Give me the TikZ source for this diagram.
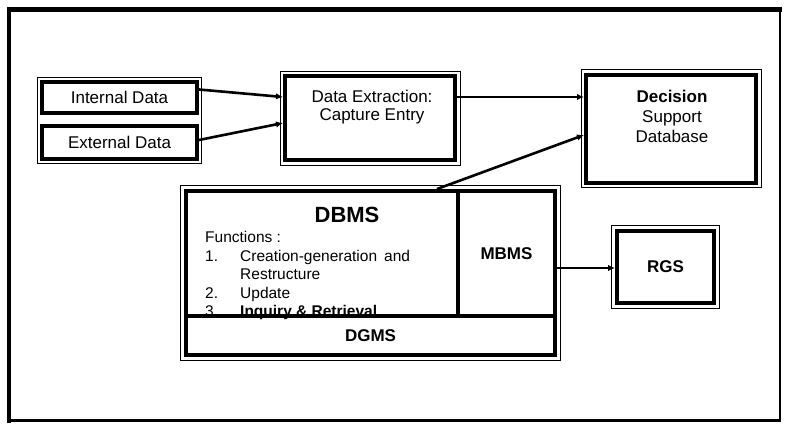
\documentclass[tikz,border=0pt]{standalone}
\usepackage{fontspec}
\setmainfont{Liberation Sans}
\usetikzlibrary{arrows.meta,fit}

\tikzset{
  box/.style={draw, line width=4pt, inner sep=0pt, align=center},
  frame/.style={draw, line width=0.9pt, inner sep=3pt},
  flow/.style={line width=2.6pt, -{Latex[length=7pt,width=6.5pt]}},
}

\begin{document}
\fontsize{17}{18}\selectfont
\begin{tikzpicture}[x=1pt, y=-1pt]
    \useasboundingbox (0,0) rectangle (786,423);

    % Outer border
    \draw[line width=4.5pt, line cap=rect] (9,420.5) -- (9,9.5) -- (780,9.5);
    \draw[line width=2.5pt, line cap=rect] (780,9.5) -- (780,420.5) -- (9,420.5);

    % Data sources
    \node[box, minimum width=155, minimum height=31] (int) at (119.5,97.5) {Internal Data};
    \node[box, minimum width=155, minimum height=33] (ext) at (119.5,142.5) {External Data};
    \node[frame, inner sep=2.5pt, fit=(int)(ext)] (src) {};

    % Data extraction
    \node[box, minimum width=170, minimum height=84] (extr) at (370,118) {};
    \node[frame, fit=(extr)] (extrf) {};
    \node[align=center] (extrtxt) at (372,107) {Data Extraction:\\Capture Entry};

    % Decision support database
    \node[box, minimum width=170, minimum height=108] (dsd) at (671,128.5) {};
    \node[frame, fit=(dsd)] (dsdf) {};
    \node[align=center, font=\fontsize{17}{20}\selectfont] (dsdtxt) at (672,116)
        {\textbf{Decision}\\Support\\Database};

    % DBMS block
    \node[box, minimum width=272, minimum height=125] (dbms) at (322,253.5) {};
    \node[font=\bfseries\fontsize{22}{24}\selectfont] (dbmst) at (347,215) {DBMS};
    \node[anchor=north west, inner sep=0pt, font=\fontsize{15.5}{18.5}\selectfont] (funcs) at (205,229.5) {%
      \begin{tabular}{@{}p{35pt}@{}l@{}}
        \multicolumn{2}{@{}l}{Functions :}\\
        1. & Creation-generation\hspace{7pt}and\\
           & Restructure\\
        2. & Update\\
        3  & \textbf{Inquiry \& Retrieval}
      \end{tabular}};
    \node[box, font=\bfseries, minimum width=97, minimum height=125] (mbms) at (506.5,253.5) {MBMS};
    \node[box, font=\bfseries, minimum width=369, minimum height=38.5] (dgms) at (370.5,335.25) {DGMS};
    \node[frame, inner sep=3.5pt, fit=(dbms)(mbms)(dgms)] (dbmsf) {};

    % Report generation
    \node[box, font=\bfseries, minimum width=97, minimum height=72] (rgs) at (665.5,267) {\raisebox{-8pt}{RGS}};
    \node[frame, inner sep=3.5pt, fit=(rgs)] (rgsf) {};

    % Flows
    \draw[flow] ([yshift=8pt]int.east) -- ([yshift=21pt]extr.west);
    \draw[flow] ([yshift=2.5pt]ext.east) -- ([yshift=-5pt]extr.west);
    \draw[flow] ([yshift=21pt]extr.east) -- ([yshift=31.5pt]dsd.west);
    \draw[flow] ([xshift=-23pt]dbms.north east) -- ([yshift=-6.5pt]dsd.west);
    \draw[flow] ([yshift=-14.5pt]mbms.east) -- ([yshift=-1pt]rgs.west);
\end{tikzpicture}
\end{document}
